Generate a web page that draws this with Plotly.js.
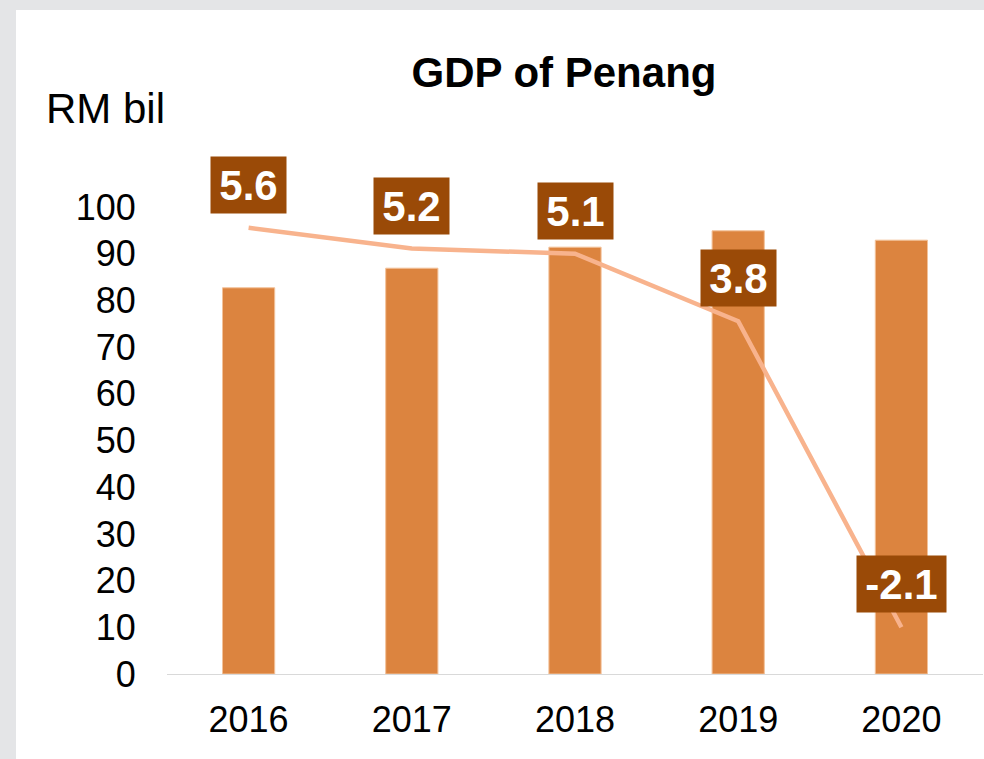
<!DOCTYPE html>
<html>
<head>
<meta charset="utf-8">
<script src="https://cdn.plot.ly/plotly-3.0.1.min.js"></script>
<style>
  html, body { margin: 0; padding: 0; background: #E4E5E7; width: 984px; height: 759px; overflow: hidden; }
  #chart { position: absolute; left: 16px; top: 10px; width: 968px; height: 749px; background: #ffffff; }
</style>
</head>
<body>
<div id="chart"></div>
<script>
// ---- data ----
const years = ['2016', '2017', '2018', '2019', '2020'];
const gdpRMbil = [82.7, 86.9, 91.4, 94.9, 92.9];
const growthPct = [5.6, 5.2, 5.1, 3.8, -2.1];
const growthLabels = ['5.6', '5.2', '5.1', '3.8', '-2.1'];
const yTicks = [0, 10, 20, 30, 40, 50, 60, 70, 80, 90, 100];

const FONT = 'Arial, "Liberation Sans", sans-serif';
const LABEL_FONT_SIZE = 42;

// measure label text widths so each box hugs its text like the reference
const cv = document.createElement('canvas').getContext('2d');
cv.font = 'bold ' + LABEL_FONT_SIZE + 'px "Liberation Sans", Arial, sans-serif';

const barTrace = {
  type: 'bar',
  x: years,
  y: gdpRMbil,
  marker: { color: '#DC843F', line: { color: '#F3C29A', width: 1 } },
  hoverinfo: 'x+y',
  showlegend: false
};

const lineTrace = {
  type: 'scatter',
  mode: 'lines',
  x: years,
  y: growthPct,
  yaxis: 'y2',
  line: { color: '#F8B38D', width: 4.5 },
  showlegend: false
};

// category axis: annotations are placed by category index
const labelAnnotations = years.map((yr, i) => ({
  xref: 'x', yref: 'y2',
  x: i, y: growthPct[i],
  text: '<b>' + growthLabels[i] + '</b>',
  showarrow: false,
  yshift: 43,
  bgcolor: '#9A4A07',
  borderpad: 0,
  width: Math.round(cv.measureText(growthLabels[i]).width) + 17,
  height: 56,
  font: { family: FONT, size: LABEL_FONT_SIZE, color: '#ffffff' }
}));

const layout = {
  width: 968,
  height: 749,
  margin: { l: 151, r: 1, t: 197, b: 85 },
  paper_bgcolor: '#ffffff',
  plot_bgcolor: '#ffffff',
  bargap: 0.68,
  font: { family: FONT, color: '#000000' },
  title: {
    text: '<b>GDP of Penang</b>',
    font: { family: FONT, size: 42, color: '#000000' },
    xref: 'container', yref: 'container',
    x: 0.5661, xanchor: 'center',
    y: 0.917, yanchor: 'middle'
  },
  xaxis: {
    type: 'category',
    range: [-0.5, 4.5],
    showgrid: false,
    zeroline: false,
    showline: true,
    linecolor: '#D9D9D9',
    linewidth: 1,
    ticks: 'outside',
    ticklen: 14,
    tickcolor: 'rgba(0,0,0,0)',
    tickfont: { family: FONT, size: 36, color: '#000000' },
    fixedrange: true
  },
  yaxis: {
    range: [0, 100],
    tickvals: yTicks,
    ticktext: yTicks.map(String),
    showgrid: false,
    zeroline: false,
    showline: false,
    ticks: 'outside',
    ticklen: 23,
    tickcolor: 'rgba(0,0,0,0)',
    tickfont: { family: FONT, size: 36, color: '#000000' },
    fixedrange: true
  },
  yaxis2: {
    overlaying: 'y',
    side: 'right',
    range: [-3, 6],
    visible: false,
    fixedrange: true
  },
  annotations: [
    {
      xref: 'paper', yref: 'paper',
      x: -0.0748, y: 1.21,
      xanchor: 'center', yanchor: 'middle',
      text: 'RM bil',
      showarrow: false,
      font: { family: FONT, size: 42, color: '#000000' }
    }
  ].concat(labelAnnotations)
};

Plotly.newPlot('chart', [barTrace, lineTrace], layout, { displayModeBar: false, staticPlot: true });
</script>
</body>
</html>
